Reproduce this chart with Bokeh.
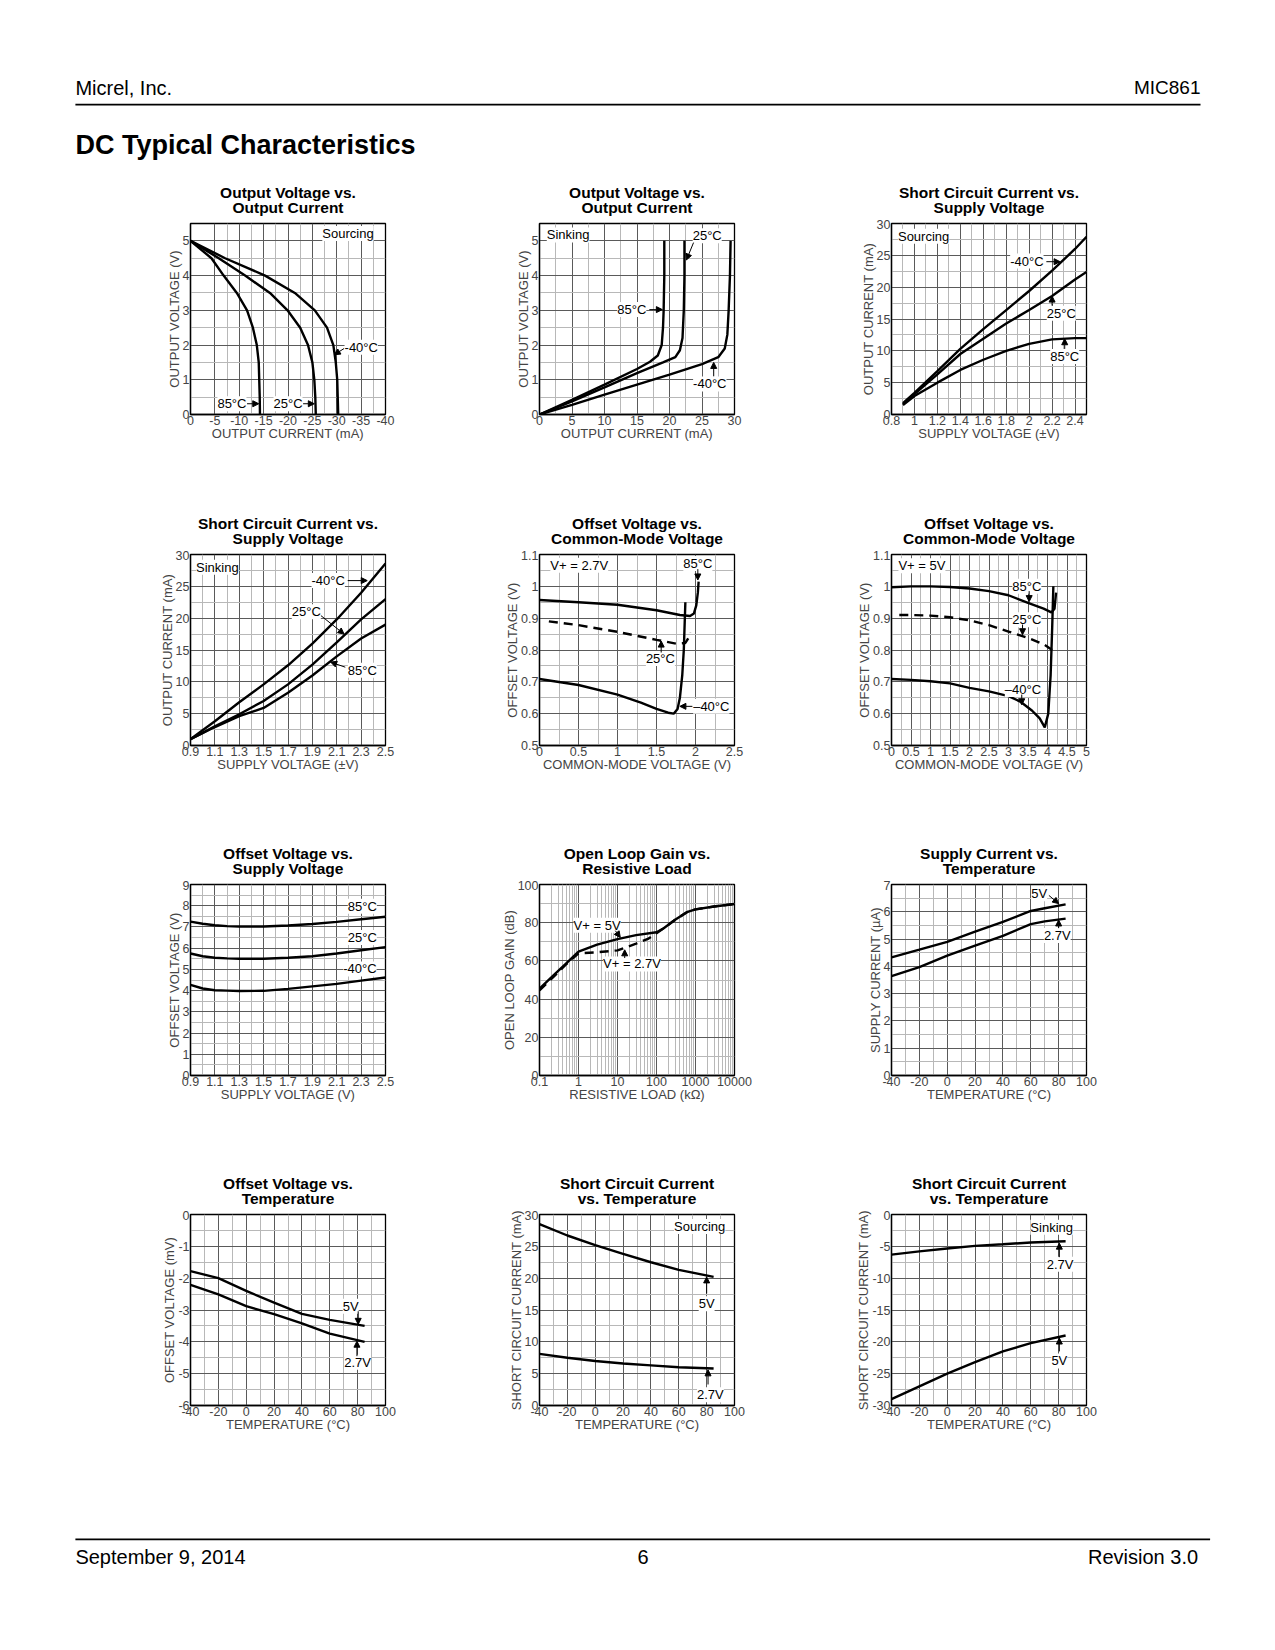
from bokeh.plotting import figure
from bokeh.models import Range1d, FixedTicker, Label, Arrow, NormalHead
from bokeh.layouts import column, row
from bokeh.models import Spacer
from bokeh.embed import file_html
from bokeh.resources import INLINE

FONT = "Liberation Sans"

# ---------------- data ----------------
# Chart 1: Output Voltage vs Output Current (Sourcing)
c1_v = [5, 4.5, 4.0, 3.5, 3.0, 2.5, 2.0, 1.5, 1.0, 0.5, 0]
c1_85_i = [0, -4.3, -6.8, -9.5, -11.6, -12.8, -13.6, -14.0, -14.1, -14.2, -14.25]
c1_25_i = [0, -5.8, -11.2, -16.3, -19.9, -22.5, -24.1, -25.0, -25.4, -25.6, -25.7]
c1_m40_i = [0, -7.1, -15.3, -21.4, -25.5, -28.0, -29.3, -29.8, -30.1, -30.2, -30.3]

# Chart 2: Output Voltage vs Output Current (Sinking)
c2_85_i = [0, 5, 10, 15, 17, 18.2, 18.8, 19.0, 19.1, 19.2, 19.2]
c2_85_v = [0, 0.42, 0.86, 1.31, 1.52, 1.7, 2.0, 2.5, 3.0, 4.0, 5.0]
c2_25_i = [0, 5, 10, 15, 19, 20.9, 21.6, 22.0, 22.2, 22.3, 22.3]
c2_25_v = [0, 0.38, 0.78, 1.19, 1.5, 1.65, 1.85, 2.2, 3.0, 4.0, 5.0]
c2_m40_i = [0, 5, 10, 15, 20, 25, 27.5, 28.5, 28.9, 29.1, 29.3, 29.4]
c2_m40_v = [0, 0.28, 0.57, 0.86, 1.15, 1.45, 1.65, 1.9, 2.3, 3.0, 4.0, 5.0]

# Chart 3: Short Circuit Current vs Supply Voltage (Sourcing)
c3_vs = [0.9, 1.0, 1.2, 1.4, 1.6, 1.8, 2.0, 2.2, 2.4, 2.5]
c3_m40 = [1.8, 3.4, 6.8, 10.3, 13.4, 16.4, 19.4, 22.6, 26.0, 27.9]
c3_25 = [1.6, 3.2, 6.3, 9.5, 11.9, 14.3, 16.4, 18.6, 21.2, 22.4]
c3_85 = [1.5, 2.9, 5.0, 7.0, 8.6, 10.0, 11.1, 11.8, 12.0, 12.0]

# Chart 4: Short Circuit Current vs Supply Voltage (Sinking)
c4_vs = [0.9, 1.1, 1.3, 1.5, 1.7, 1.9, 2.1, 2.3, 2.5]
c4_m40 = [1.0, 3.8, 6.8, 9.6, 12.6, 16.0, 19.8, 24.0, 28.6]
c4_25 = [1.0, 3.0, 4.9, 7.0, 9.6, 12.7, 16.2, 19.8, 23.0]
c4_85 = [1.0, 2.9, 4.6, 5.9, 8.3, 11.0, 14.0, 16.8, 19.0]

# Chart 5: Offset Voltage vs Common-Mode Voltage (V+ = 2.7V)
c5_85_x = [0, 0.5, 1.0, 1.5, 1.8, 1.93, 1.98, 2.01, 2.03, 2.04]
c5_85_y = [0.957, 0.95, 0.942, 0.925, 0.91, 0.907, 0.915, 0.94, 0.98, 1.015]
c5_25_x = [0.12, 0.5, 1.0, 1.5, 1.75, 1.87, 1.91, 1.93]
c5_25_y = [0.89, 0.878, 0.857, 0.832, 0.82, 0.822, 0.838, 0.855]
c5_m40_x = [0, 0.5, 1.0, 1.3, 1.5, 1.65, 1.72, 1.77, 1.8, 1.83, 1.85, 1.87]
c5_m40_y = [0.709, 0.69, 0.66, 0.635, 0.615, 0.603, 0.6, 0.615, 0.65, 0.72, 0.8, 0.95]

# Chart 6: Offset Voltage vs Common-Mode Voltage (V+ = 5V)
c6_85_x = [0, 0.5, 1.0, 1.5, 2.0, 2.5, 3.0, 3.5, 3.9, 4.1, 4.18, 4.22]
c6_85_y = [0.997, 1.0, 1.0, 0.998, 0.993, 0.985, 0.972, 0.948, 0.93, 0.918, 0.93, 0.98]
c6_25_x = [0.2, 0.5, 1.0, 1.5, 2.0, 2.5, 3.0, 3.5, 3.9, 4.12]
c6_25_y = [0.91, 0.91, 0.908, 0.903, 0.893, 0.878, 0.858, 0.838, 0.818, 0.8]
c6_m40_x = [0, 0.5, 1.0, 1.5, 2.0, 2.5, 3.0, 3.3, 3.6, 3.8, 3.93, 4.02, 4.08, 4.12, 4.15]
c6_m40_y = [0.709, 0.706, 0.702, 0.695, 0.681, 0.67, 0.655, 0.638, 0.61, 0.585, 0.557, 0.6, 0.72, 0.87, 1.0]

# Chart 7: Offset Voltage vs Supply Voltage
c7_vs = [0.9, 1.0, 1.1, 1.2, 1.3, 1.5, 1.7, 1.9, 2.1, 2.3, 2.5]
c7_85 = [7.25, 7.15, 7.08, 7.04, 7.02, 7.02, 7.07, 7.14, 7.24, 7.36, 7.48]
c7_25 = [5.75, 5.62, 5.55, 5.52, 5.5, 5.5, 5.55, 5.62, 5.75, 5.9, 6.05]
c7_m40 = [4.27, 4.1, 4.02, 4.0, 3.98, 3.99, 4.08, 4.2, 4.32, 4.47, 4.62]

# Chart 8: Open Loop Gain vs Resistive Load
c8_5v_r = [0.1, 0.25, 0.5, 1, 3, 10, 30, 100, 150, 300, 600, 1000, 3000, 10000]
c8_5v_g = [45.5, 53.2, 59, 64.8, 68.5, 71.4, 73.5, 75, 77, 81.5, 85.5, 87, 88.5, 89.8]
c8_27_r = [0.1, 0.25, 0.5, 1, 3, 10, 30, 60, 100, 150, 300, 600, 1000, 3000, 10000]
c8_27_g = [44.6, 52.4, 58.5, 64, 64.5, 65.5, 69, 71.5, 74.5, 77, 81.5, 85.5, 87, 88.5, 89.8]

# Chart 9: Supply Current vs Temperature
c9_t = [-40, -20, 0, 20, 40, 60, 70, 85]
c9_5v = [4.33, 4.61, 4.9, 5.27, 5.63, 6.03, 6.13, 6.27]
c9_27 = [3.64, 3.97, 4.39, 4.76, 5.12, 5.55, 5.65, 5.75]

# Chart 10: Offset Voltage vs Temperature
c10_t = [-40, -20, 0, 20, 40, 60, 85]
c10_5v = [-1.78, -2.0, -2.4, -2.77, -3.12, -3.31, -3.5]
c10_27 = [-2.21, -2.51, -2.88, -3.13, -3.42, -3.74, -4.0]

# Chart 11: Short Circuit Current vs Temperature (Sourcing)
c11_t = [-40, -20, 0, 20, 40, 60, 85]
c11_5v = [28.5, 26.7, 25.2, 23.8, 22.5, 21.3, 20.2]
c11_27 = [8.1, 7.5, 7.0, 6.6, 6.3, 6.0, 5.8]

# Chart 12: Short Circuit Current vs Temperature (Sinking)
c12_t = [-40, -20, 0, 20, 40, 60, 85]
c12_27 = [-6.3, -5.8, -5.35, -4.93, -4.67, -4.4, -4.2]
c12_5v = [-29.0, -27.0, -25.0, -23.2, -21.5, -20.2, -19.0]

# ---------------- chart titles ----------------
titles = [
    ("Output Voltage vs.", "Output Current"),
    ("Output Voltage vs.", "Output Current"),
    ("Short Circuit Current vs.", "Supply Voltage"),
    ("Short Circuit Current vs.", "Supply Voltage"),
    ("Offset Voltage vs.", "Common-Mode Voltage"),
    ("Offset Voltage vs.", "Common-Mode Voltage"),
    ("Offset Voltage vs.", "Supply Voltage"),
    ("Open Loop Gain vs.", "Resistive Load"),
    ("Supply Current vs.", "Temperature"),
    ("Offset Voltage vs.", "Temperature"),
    ("Short Circuit Current", "vs. Temperature"),
    ("Short Circuit Current", "vs. Temperature"),
]

# ---------------- tick labels ----------------
t_i_src = [0, -5, -10, -15, -20, -25, -30, -35, -40]
t_i_src_lab = ["0", "-5", "-10", "-15", "-20", "-25", "-30", "-35", "-40"]
t_i_snk = [0, 5, 10, 15, 20, 25, 30]
t_i_snk_lab = ["0", "5", "10", "15", "20", "25", "30"]
t_v5 = [0, 1, 2, 3, 4, 5]
t_v5_lab = ["0", "1", "2", "3", "4", "5"]
t_vs08 = [0.8, 1, 1.2, 1.4, 1.6, 1.8, 2, 2.2, 2.4]
t_vs08_lab = ["0.8", "1", "1.2", "1.4", "1.6", "1.8", "2", "2.2", "2.4"]
t_vs09 = [0.9, 1.1, 1.3, 1.5, 1.7, 1.9, 2.1, 2.3, 2.5]
t_vs09_lab = ["0.9", "1.1", "1.3", "1.5", "1.7", "1.9", "2.1", "2.3", "2.5"]
t_ma30 = [0, 5, 10, 15, 20, 25, 30]
t_ma30_lab = ["0", "5", "10", "15", "20", "25", "30"]
t_cm25 = [0, 0.5, 1, 1.5, 2, 2.5]
t_cm25_lab = ["0", "0.5", "1", "1.5", "2", "2.5"]
t_cm5 = [0, 0.5, 1, 1.5, 2, 2.5, 3, 3.5, 4, 4.5, 5]
t_cm5_lab = ["0", "0.5", "1", "1.5", "2", "2.5", "3", "3.5", "4", "4.5", "5"]
t_os = [0.5, 0.6, 0.7, 0.8, 0.9, 1, 1.1]
t_os_lab = ["0.5", "0.6", "0.7", "0.8", "0.9", "1", "1.1"]
t_o9 = [0, 1, 2, 3, 4, 5, 6, 7, 8, 9]
t_o9_lab = ["0", "1", "2", "3", "4", "5", "6", "7", "8", "9"]
t_rl = [0.1, 1, 10, 100, 1000, 10000]
t_rl_lab = ["0.1", "1", "10", "100", "1000", "10000"]
t_db = [0, 20, 40, 60, 80, 100]
t_db_lab = ["0", "20", "40", "60", "80", "100"]
t_temp = [-40, -20, 0, 20, 40, 60, 80, 100]
t_temp_lab = ["-40", "-20", "0", "20", "40", "60", "80", "100"]
t_ua = [0, 1, 2, 3, 4, 5, 6, 7]
t_ua_lab = ["0", "1", "2", "3", "4", "5", "6", "7"]
t_mv = [-6, -5, -4, -3, -2, -1, 0]
t_mv_lab = ["-6", "-5", "-4", "-3", "-2", "-1", "0"]
t_sk = [-30, -25, -20, -15, -10, -5, 0]
t_sk_lab = ["-30", "-25", "-20", "-15", "-10", "-5", "0"]


def minors(ticks, step):
    return [t + step for t in ticks[:-1]] if step > 0 else [t + step for t in ticks[1:]]


LW = 2.4
DASH = "9 6"

# geometry (px)
MB_L, MB_R, MB_T, MB_B = 55, 25, 4, 40
FW, FH = 195, 191
FIG_W, FIG_H = MB_L + FW + MB_R, MB_T + FH + MB_B
PAGE_W = 1259
GAP1, GAP2, LEFT0 = 74, 77, 135
FIG_LEFTS = [LEFT0, LEFT0 + FIG_W + GAP1, LEFT0 + 2 * FIG_W + GAP1 + GAP2]
FRAME_CX = [x + MB_L + FW / 2 for x in FIG_LEFTS]


def chart(xlab, ylab, xr, yr, xt, xtl, xmin, yt, ytl, ymin, xlog=False):
    p = figure(width=FIG_W, height=FIG_H, output_backend="svg", toolbar_location=None,
               x_axis_type="log" if xlog else "linear",
               x_range=Range1d(*xr), y_range=Range1d(*yr),
               min_border_left=MB_L, min_border_right=MB_R, min_border_top=MB_T, min_border_bottom=MB_B)
    p.outline_line_color = "black"
    p.outline_line_width = 1.3
    p.outline_line_alpha = 1
    for ax, t, tl, mn, lab in ((p.xaxis[0], xt, xtl, xmin, xlab), (p.yaxis[0], yt, ytl, ymin, ylab)):
        ax.ticker = FixedTicker(ticks=t, minor_ticks=mn)
        ax.major_label_overrides = dict(zip(t, tl))
        ax.axis_label = lab
        ax.axis_label_text_font = FONT
        ax.axis_label_text_font_style = "normal"
        ax.axis_label_text_font_size = "13px"
        ax.axis_label_standoff = -2
        ax.major_label_text_font = FONT
        ax.major_label_text_font_size = "12.5px"
        ax.major_label_standoff = 1
        ax.major_tick_in = 0
        ax.major_tick_out = 0
        ax.minor_tick_in = 0
        ax.minor_tick_out = 0
        ax.axis_line_color = "black"
        ax.axis_line_width = 1.3
    for g in (p.xgrid[0], p.ygrid[0]):
        g.grid_line_color = "#5a5a5a"
        g.grid_line_width = 1
        g.minor_grid_line_color = "#b8b8b8"
        g.minor_grid_line_width = 1
    return p


def note(p, x, y, text, align="center"):
    p.add_layout(Label(x=x, y=y, text=text, text_align=align, text_baseline="middle",
                       text_font=FONT, text_font_size="13px", text_color="black",
                       background_fill_color="white"))


def arrow(p, x0, y0, x1, y1):
    p.add_layout(Arrow(end=NormalHead(size=6, fill_color="black", line_color="black", line_width=1),
                       x_start=x0, y_start=y0, x_end=x1, y_end=y1,
                       line_color="black", line_width=1))


def page_strip(height):
    s = figure(width=PAGE_W, height=height, x_range=Range1d(0, PAGE_W), y_range=Range1d(height, 0),
               output_backend="svg", toolbar_location=None, min_border=0,
               x_axis_location=None, y_axis_location=None)
    s.grid.visible = False
    s.outline_line_color = None
    return s


def add_titles(s, height, row_titles):
    # line 2 centred 16 px above the frame top, line 1 15 px higher
    frame_top = height + MB_T
    for cx, (l1, l2) in zip(FRAME_CX, row_titles):
        for txt, dy in ((l1, 31), (l2, 16)):
            s.add_layout(Label(x=cx, y=frame_top - dy, text=txt, text_align="center",
                               text_baseline="middle", text_font=FONT, text_font_size="15.5px",
                               text_font_style="bold", text_color="black"))


# ---------------- Chart 1 ----------------
p1 = chart("OUTPUT CURRENT (mA)", "OUTPUT VOLTAGE (V)",
           (0, -40), (0, 5.5), t_i_src, t_i_src_lab, minors(t_i_src, -2.5),
           t_v5, t_v5_lab, [v + 0.5 for v in t_v5])
p1.line(c1_85_i, c1_v, line_width=LW, color="black")
p1.line(c1_25_i, c1_v, line_width=LW, color="black")
p1.line(c1_m40_i, c1_v, line_width=LW, color="black")
note(p1, -32.3, 5.21, "Sourcing")
note(p1, -31.6, 1.94, "-40°C", "left")
arrow(p1, -31.5, 1.9, -29.5, 1.72)
note(p1, -8.5, 0.31, "85°C")
arrow(p1, -11.6, 0.31, -14.0, 0.31)
note(p1, -20.0, 0.31, "25°C")
arrow(p1, -23.1, 0.31, -25.4, 0.31)

# ---------------- Chart 2 ----------------
p2 = chart("OUTPUT CURRENT (mA)", "OUTPUT VOLTAGE (V)",
           (0, 30), (0, 5.5), t_i_snk, t_i_snk_lab, minors(t_i_snk, 2.5),
           t_v5, t_v5_lab, [v + 0.5 for v in t_v5])
p2.line(c2_85_i, c2_85_v, line_width=LW, color="black")
p2.line(c2_25_i, c2_25_v, line_width=LW, color="black")
p2.line(c2_m40_i, c2_m40_v, line_width=LW, color="black")
note(p2, 4.4, 5.17, "Sinking")
note(p2, 14.2, 3.02, "85°C")
arrow(p2, 16.9, 3.02, 18.9, 3.02)
note(p2, 25.8, 5.15, "25°C")
arrow(p2, 23.7, 4.95, 22.6, 4.45)
note(p2, 26.2, 0.88, "-40°C")
arrow(p2, 26.8, 1.1, 26.8, 1.5)

# ---------------- Chart 3 ----------------
p3 = chart("SUPPLY VOLTAGE (±V)", "OUTPUT CURRENT (mA)",
           (0.8, 2.5), (0, 30), t_vs08, t_vs08_lab, [0.9, 1.1, 1.3, 1.5, 1.7, 1.9, 2.1, 2.3, 2.5],
           t_ma30, t_ma30_lab, minors(t_ma30, 2.5))
p3.line(c3_vs, c3_m40, line_width=LW, color="black")
p3.line(c3_vs, c3_25, line_width=LW, color="black")
p3.line(c3_vs, c3_85, line_width=LW, color="black")
note(p3, 1.08, 28.0, "Sourcing")
note(p3, 1.98, 24.1, "-40°C")
arrow(p3, 2.15, 24.0, 2.27, 24.0)
note(p3, 2.28, 15.9, "25°C")
arrow(p3, 2.2, 17.1, 2.2, 18.6)
note(p3, 2.31, 9.1, "85°C")
arrow(p3, 2.31, 10.3, 2.31, 11.9)

# ---------------- Chart 4 ----------------
p4 = chart("SUPPLY VOLTAGE (±V)", "OUTPUT CURRENT (mA)",
           (0.9, 2.5), (0, 30), t_vs09, t_vs09_lab, [1.0, 1.2, 1.4, 1.6, 1.8, 2.0, 2.2, 2.4],
           t_ma30, t_ma30_lab, minors(t_ma30, 2.5))
p4.line(c4_vs, c4_m40, line_width=LW, color="black")
p4.line(c4_vs, c4_25, line_width=LW, color="black")
p4.line(c4_vs, c4_85, line_width=LW, color="black")
note(p4, 1.12, 28.0, "Sinking")
note(p4, 2.03, 25.9, "-40°C")
arrow(p4, 2.19, 25.9, 2.35, 25.9)
note(p4, 1.85, 21.0, "25°C")
arrow(p4, 1.97, 20.4, 2.16, 17.5)
note(p4, 2.31, 11.8, "85°C")
arrow(p4, 2.17, 12.3, 2.05, 13.1)

# ---------------- Chart 5 ----------------
p5 = chart("COMMON-MODE VOLTAGE (V)", "OFFSET VOLTAGE (V)",
           (0, 2.5), (0.5, 1.1), t_cm25, t_cm25_lab, minors(t_cm25, 0.25),
           t_os, t_os_lab, minors(t_os, 0.05))
p5.line(c5_85_x, c5_85_y, line_width=LW, color="black")
p5.line(c5_25_x, c5_25_y, line_width=LW, color="black", line_dash=DASH)
p5.line(c5_m40_x, c5_m40_y, line_width=LW, color="black")
note(p5, 0.51, 1.066, "V+ = 2.7V")
note(p5, 2.03, 1.072, "85°C")
arrow(p5, 2.03, 1.054, 2.03, 1.02)
note(p5, 1.55, 0.773, "25°C")
arrow(p5, 1.56, 0.792, 1.56, 0.828)
note(p5, 1.97, 0.623, "–40°C", "left")
arrow(p5, 1.96, 0.623, 1.8, 0.623)

# ---------------- Chart 6 ----------------
p6 = chart("COMMON-MODE VOLTAGE (V)", "OFFSET VOLTAGE (V)",
           (0, 5), (0.5, 1.1), t_cm5, t_cm5_lab, minors(t_cm5, 0.25),
           t_os, t_os_lab, minors(t_os, 0.05))
p6.line(c6_85_x, c6_85_y, line_width=LW, color="black")
p6.line(c6_25_x, c6_25_y, line_width=LW, color="black", line_dash=DASH)
p6.line(c6_m40_x, c6_m40_y, line_width=LW, color="black")
note(p6, 0.78, 1.065, "V+ = 5V")
note(p6, 3.47, 1.0, "85°C")
arrow(p6, 3.53, 0.985, 3.53, 0.952)
note(p6, 3.47, 0.895, "25°C")
arrow(p6, 3.36, 0.88, 3.36, 0.848)
note(p6, 3.37, 0.676, "–40°C")
arrow(p6, 3.34, 0.66, 3.34, 0.628)

# ---------------- Chart 7 ----------------
p7 = chart("SUPPLY VOLTAGE (V)", "OFFSET VOLTAGE (V)",
           (0.9, 2.5), (0, 9), t_vs09, t_vs09_lab, [1.0, 1.2, 1.4, 1.6, 1.8, 2.0, 2.2, 2.4],
           t_o9, t_o9_lab, minors(t_o9, 0.5))
p7.line(c7_vs, c7_85, line_width=LW, color="black")
p7.line(c7_vs, c7_25, line_width=LW, color="black")
p7.line(c7_vs, c7_m40, line_width=LW, color="black")
note(p7, 2.31, 7.98, "85°C")
note(p7, 2.31, 6.5, "25°C")
note(p7, 2.29, 5.02, "-40°C")

# ---------------- Chart 8 ----------------
rl_minor = [k * 10.0 ** d for d in range(-1, 4) for k in range(2, 10)]
p8 = chart("RESISTIVE LOAD (kΩ)", "OPEN LOOP GAIN (dB)",
           (0.1, 10000), (0, 100), t_rl, t_rl_lab, rl_minor,
           t_db, t_db_lab, minors(t_db, 10), xlog=True)
p8.line(c8_5v_r, c8_5v_g, line_width=LW, color="black")
p8.line(c8_27_r, c8_27_g, line_width=LW, color="black", line_dash=DASH)
note(p8, 3.0, 78.7, "V+ = 5V")
arrow(p8, 8.8, 75.8, 11.8, 72.3)
note(p8, 23.5, 58.4, "V+ = 2.7V")
arrow(p8, 15.3, 61.5, 15.3, 65.8)

# ---------------- Chart 9 ----------------
p9 = chart("TEMPERATURE (°C)", "SUPPLY CURRENT (µA)",
           (-40, 100), (0, 7), t_temp, t_temp_lab, minors(t_temp, 10),
           t_ua, t_ua_lab, minors(t_ua, 0.5))
p9.line(c9_t, c9_5v, line_width=LW, color="black")
p9.line(c9_t, c9_27, line_width=LW, color="black")
note(p9, 66, 6.66, "5V")
arrow(p9, 73, 6.6, 80, 6.3)
note(p9, 79, 5.13, "2.7V")
arrow(p9, 80, 5.4, 80, 5.7)

# ---------------- Chart 10 ----------------
p10 = chart("TEMPERATURE (°C)", "OFFSET VOLTAGE (mV)",
            (-40, 100), (-6, 0), t_temp, t_temp_lab, minors(t_temp, 10),
            t_mv, t_mv_lab, minors(t_mv, 0.5))
p10.line(c10_t, c10_5v, line_width=LW, color="black")
p10.line(c10_t, c10_27, line_width=LW, color="black")
note(p10, 75, -2.88, "5V")
arrow(p10, 80.4, -3.04, 80.4, -3.45)
note(p10, 80, -4.64, "2.7V")
arrow(p10, 79.5, -4.45, 79.5, -3.98)

# ---------------- Chart 11 ----------------
p11 = chart("TEMPERATURE (°C)", "SHORT CIRCUIT CURRENT (mA)",
            (-40, 100), (0, 30), t_temp, t_temp_lab, minors(t_temp, 10),
            t_ma30, t_ma30_lab, minors(t_ma30, 2.5))
p11.line(c11_t, c11_5v, line_width=LW, color="black")
p11.line(c11_t, c11_27, line_width=LW, color="black")
note(p11, 75, 28.1, "Sourcing")
note(p11, 80, 16.0, "5V")
arrow(p11, 80, 17.6, 80, 20.2)
note(p11, 82.7, 1.7, "2.7V")
arrow(p11, 81, 3.3, 81, 5.6)

# ---------------- Chart 12 ----------------
p12 = chart("TEMPERATURE (°C)", "SHORT CIRCUIT CURRENT (mA)",
            (-40, 100), (-30, 0), t_temp, t_temp_lab, minors(t_temp, 10),
            t_sk, t_sk_lab, minors(t_sk, 2.5))
p12.line(c12_t, c12_27, line_width=LW, color="black")
p12.line(c12_t, c12_5v, line_width=LW, color="black")
note(p12, 75, -2.0, "Sinking")
note(p12, 81, -7.8, "2.7V")
arrow(p12, 80.5, -6.7, 80.5, -4.5)
note(p12, 80.5, -23.0, "5V")
arrow(p12, 80.5, -21.5, 80.5, -19.4)

# ---------------- header (with row-1 titles) ----------------
HDR_H = 219
hdr = page_strip(HDR_H)
hdr.add_layout(Label(x=74.9, y=87.2, text="Micrel, Inc.", text_align="left", text_baseline="middle",
                     text_font=FONT, text_font_size="20px", text_color="black"))
hdr.add_layout(Label(x=1200, y=87.2, text="MIC861", text_align="right", text_baseline="middle",
                     text_font=FONT, text_font_size="19px", text_color="black"))
hdr.segment(x0=[74.9], y0=[104.1], x1=[1200], y1=[104.1], line_width=1.6, color="black")
hdr.add_layout(Label(x=74.9, y=144.2, text="DC Typical Characteristics", text_align="left",
                     text_baseline="middle", text_font=FONT, text_font_size="27px",
                     text_font_style="bold", text_color="black"))
add_titles(hdr, HDR_H, titles[0:3])

# ---------------- title strips between rows ----------------
S2_H, S3_H, S4_H = 96, 95, 95
s2 = page_strip(S2_H)
add_titles(s2, S2_H, titles[3:6])
s3 = page_strip(S3_H)
add_titles(s3, S3_H, titles[6:9])
s4 = page_strip(S4_H)
add_titles(s4, S4_H, titles[9:12])

# ---------------- footer ----------------
FTR_H = 150
ftr = page_strip(FTR_H)
ftr.segment(x0=[74.9], y0=[93.9], x1=[1209.6], y1=[93.9], line_width=1.6, color="black")
ftr.add_layout(Label(x=74.9, y=111.8, text="September 9, 2014", text_align="left", text_baseline="middle",
                     text_font=FONT, text_font_size="20px", text_color="black"))
ftr.add_layout(Label(x=642.5, y=111.8, text="6", text_align="center", text_baseline="middle",
                     text_font=FONT, text_font_size="20px", text_color="black"))
ftr.add_layout(Label(x=1197.6, y=111.8, text="Revision 3.0", text_align="right", text_baseline="middle",
                     text_font=FONT, text_font_size="20px", text_color="black"))


def chart_row(a, b, c):
    return row(Spacer(width=LEFT0), a, Spacer(width=GAP1), b, Spacer(width=GAP2), c)


root = column(hdr,
              chart_row(p1, p2, p3), s2,
              chart_row(p4, p5, p6), s3,
              chart_row(p7, p8, p9), s4,
              chart_row(p10, p11, p12),
              ftr)

open("out.html", "w").write(file_html(root, INLINE))
